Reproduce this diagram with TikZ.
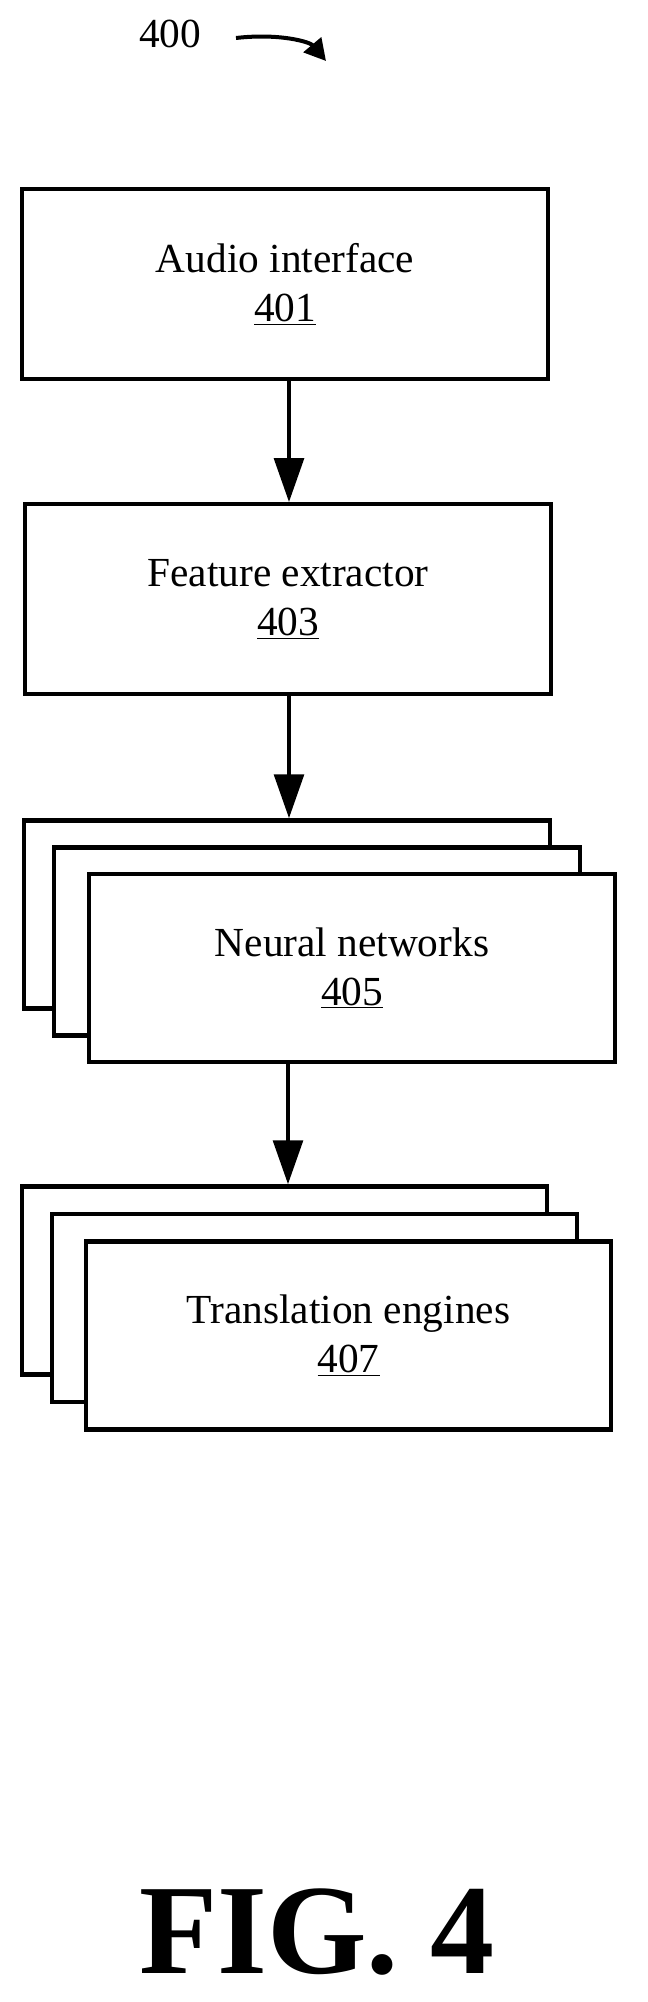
\documentclass[tikz,border=0pt]{standalone}
\usepackage{fontspec}
\setmainfont{Liberation Serif}
\usetikzlibrary{arrows.meta,positioning}

\tikzset{every picture/.style={line width=3.2pt}}
\tikzset{
  box/.style={draw, fill=white, rectangle, minimum width=394pt, minimum height=142pt, align=center, inner sep=0pt, font=\fontsize{31}{37}\selectfont},
  stackbox/.style={box, minimum height=141pt},
  flow/.style={line width=3.6pt, -{Triangle[length=33pt,width=22pt]}}
}

\begin{document}
\begin{tikzpicture}[x=0.75pt,y=0.75pt,yscale=-1,xscale=1]
\useasboundingbox (0,0) rectangle (647,2002);

% reference label
\node [anchor=center, font=\fontsize{31}{36}\selectfont] (lbl) at (170,34) {400};
\coordinate (lblend) at (326,61);
\draw [line width=3pt, -{Triangle[length=16pt,width=17pt]}] (236,38) .. controls (280,33) and (310,42) .. (lblend);

% audio interface
\node [box] (audio) at (285,284) {Audio interface\\\underline{401}};
% feature extractor
\node [box] (feat) at (288,599) {Feature extractor\\\underline{403}};

% neural networks (stack)
\node [stackbox] (nnA) at (287,914.5) {};
\node [stackbox] (nnB) at (317,941.5) {};
\node [stackbox] (nn) at (352,968) {Neural networks\\\underline{405}};

% translation engines (stack)
\node [stackbox] (teA) at (284.5,1280.5) {};
\node [stackbox] (teB) at (314.5,1308) {};
\node [stackbox] (te) at (348.5,1335.5) {Translation engines\\\underline{407}};

% connectors
\draw [flow] (audio.south -| 289,0) -- (feat.north -| 289,0);
\draw [flow] (feat.south -| 289,0) -- (nnA.north -| 289,0);
\draw [flow] (nn.south -| 288,0) -- (teA.north -| 288,0);

% caption
\node [font=\bfseries\fontsize{96}{100}\selectfont] (cap) at (317,1932) {FIG. 4};

\end{tikzpicture}
\end{document}
